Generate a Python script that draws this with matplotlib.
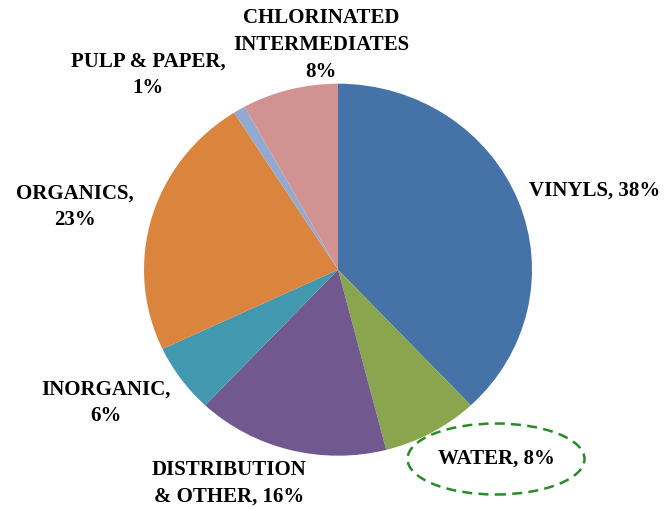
import matplotlib.pyplot as plt
from matplotlib.patches import Ellipse

# slices, clockwise from 12 o'clock
labels = ["VINYLS, 38%", "WATER, 8%", "DISTRIBUTION\n& OTHER, 16%", "INORGANIC,\n6%",
          "ORGANICS,\n23%", "PULP & PAPER,\n1%", "CHLORINATED\nINTERMEDIATES\n8%"]
shares = [38, 8, 16, 6, 23, 1, 8]
colors = ["#4572A7", "#89A54E", "#71588F", "#4198AF", "#DB843D", "#93A9CF", "#D19392"]

# label centres in pixel coords (x, y from top)
label_pos = [(595, 191), (496, 459), (229, 483), (106, 403),
             (75, 207), (148, 75), (321, 45)]

W, H = 669, 509
k = 186.0 / 194.0  # pie is slightly wider than tall


def py(y):
    # pixel y (from top) -> data y
    return (H - y) / k


fig = plt.figure(figsize=(W / 100, H / 100), dpi=100)
ax = fig.add_axes([0, 0, 1, 1])

ax.pie(shares, colors=colors, startangle=90, counterclock=False,
       center=(338, py(269.7)), radius=194, frame=True,
       wedgeprops=dict(linewidth=0))

for txt, (x, y) in zip(labels, label_pos):
    ax.text(x, py(y), txt, ha="center", va="center", fontsize=15,
            fontweight="bold", family="Liberation Serif", linespacing=1.45)

ax.add_patch(Ellipse((496, py(459)), 177, 71 / k, fill=False, edgecolor="#2A8A2A",
                     linewidth=1.8, linestyle=(0, (4, 2.5))))

ax.set_xlim(0, W)
ax.set_ylim(0, H / k)
ax.set_aspect("auto")
ax.axis("off")

fig.savefig("out.png", dpi=100, facecolor="white")
